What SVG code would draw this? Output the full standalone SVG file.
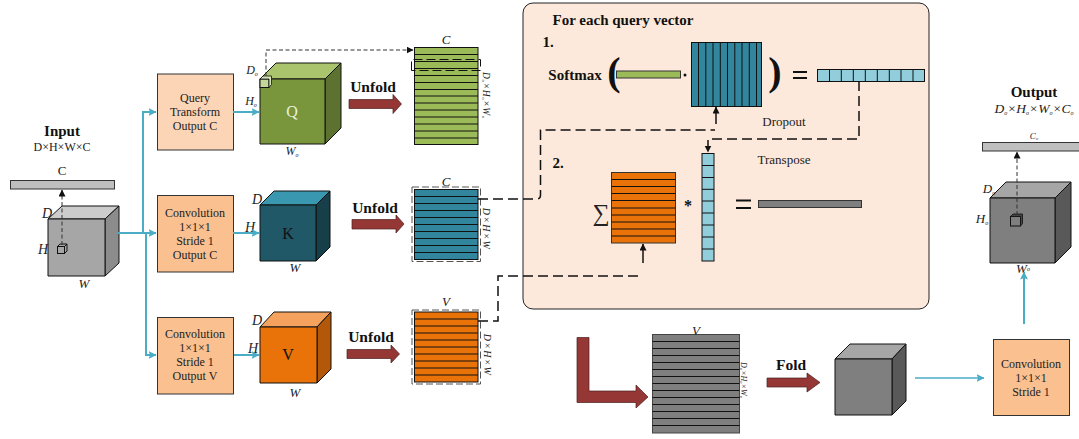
<svg xmlns="http://www.w3.org/2000/svg" width="1079" height="439" viewBox="0 0 1079 439">
<style>
text{font-family:"Liberation Serif","Times New Roman",serif;fill:#222;text-anchor:middle}
.b{font-weight:bold;fill:#111}
.i{font-style:italic}
.t10{font-size:10px}
.t12{font-size:12px}
.t13{font-size:13px}
.t14{font-size:14px}
.t15{font-size:15px}
.t16{font-size:16px}
.u{font-size:15.500px;font-weight:bold;fill:#111}
.sub{font-size:6px;font-style:italic}
.e{stroke:#111;stroke-width:1;stroke-linejoin:round}
.ln{fill:none;stroke:#111;stroke-width:1}
.blue{fill:none;stroke:#4bacc6;stroke-width:2}
.blue2{fill:none;stroke:#4bacc6;stroke-width:1.500}
.dash{fill:none;stroke:#111;stroke-width:1.500;stroke-dasharray:10 5}
.dash2{fill:none;stroke:#333;stroke-width:1;stroke-dasharray:4 2.500}
.dbox{fill:none;stroke:#555;stroke-width:1;stroke-dasharray:7 3}
.red{fill:#953735;stroke:#4a2020;stroke-width:.7}
.peach1{fill:#fbd5b5;stroke:#333;stroke-width:1}
.peach2{fill:#fac090;stroke:#333;stroke-width:1}
.eq{fill:none;stroke:#111;stroke-width:2.200}
</style>
<defs>
<marker id="ab" markerWidth="9" markerHeight="9" refX="7.500" refY="4" orient="auto" markerUnits="userSpaceOnUse"><path d="M0,0 L8,4 L0,8 L1.500,4 Z" fill="#4bacc6"/></marker>
<marker id="ak" markerWidth="8" markerHeight="8" refX="6.500" refY="3.500" orient="auto" markerUnits="userSpaceOnUse"><path d="M0,0 L7,3.500 L0,7 Z" fill="#111"/></marker>
</defs>

<g id="panel">
<rect x="523" y="3" width="406" height="306" rx="10" fill="#fde9db" stroke="#222" stroke-width="1"/>
<text x="623" y="25" class="b t15">For each query vector</text>
<text x="548" y="47" class="b t15">1.</text>
<text x="575" y="80" class="b t15">Softmax</text>
<text x="614" y="85" class="b" style="font-size:40px">(</text>
<text x="775" y="85" class="b" style="font-size:40px">)</text>
<rect x="616.500" y="71" width="64" height="7" fill="#9bbb59" stroke="#333" stroke-width="1"/>
<circle cx="685" cy="75" r="1.500" fill="#111"/>
<g id="attn-matrix">
<rect x="691.500" y="42.500" width="70" height="64" fill="#31859c" stroke="#111"/>
<path class="ln" d="M698.500,42.500V106.500M705.800,42.500V106.500M713,42.500V106.500M720.300,42.500V106.500M727.500,42.500V106.500M734.800,42.500V106.500M742,42.500V106.500M749.300,42.500V106.500M756.500,42.500V106.500"/>
</g>
<path class="eq" d="M793,72H807M793,78H807"/>
<g id="softmax-row">
<rect x="817.500" y="69.500" width="107" height="12" fill="#92cddc" stroke="#111"/>
<path class="ln" d="M829.500,69.500V81.500M841.300,69.500V81.500M853.300,69.500V81.500M865.300,69.500V81.500M877.300,69.500V81.500M889.300,69.500V81.500M901,69.500V81.500M913,69.500V81.500"/>
</g>
<text x="784" y="126" class="t13">Dropout</text>
<text x="784" y="164" class="t13">Transpose</text>
<text x="558" y="168" class="b t15">2.</text>
<text x="601" y="221" style="font-size:24px">∑</text>
<g id="v-matrix">
<rect x="611.500" y="172.500" width="64" height="70.500" fill="#e97209" stroke="#333"/>
<path class="ln" d="M611.500,179.500H675.500M611.500,186.500H675.500M611.500,193.500H675.500M611.500,200.500H675.500M611.500,208H675.500M611.500,215H675.500M611.500,222H675.500M611.500,229H675.500M611.500,236H675.500"/>
</g>
<text x="688" y="211" class="b t16">*</text>
<g id="transposed-col">
<rect x="702" y="153.500" width="12" height="107.500" fill="#92cddc" stroke="#111"/>
<path class="ln" d="M702,165.500H714M702,177.500H714M702,189.300H714M702,201H714M702,213H714M702,225H714M702,237H714M702,249H714"/>
</g>
<path class="eq" d="M736,200.500H751M736,208H751"/>
<rect x="758.500" y="200.500" width="103" height="7" fill="#7f7f7f" stroke="#333"/>
</g>

<g id="input">
<text x="62" y="136" class="b t15">Input</text>
<text x="62" y="151" class="t12">D×H×W×C</text>
<text x="62" y="175" class="t13">C</text>
<rect x="10.500" y="180.500" width="104" height="8.500" fill="#bfbfbf" stroke="#333"/>
<path class="e" fill="#cccccc" d="M48,219 L62,206 H119 L105,219 Z"/>
<path class="e" fill="#8c8c8c" d="M105,219 L119,206 V263 L105,276 Z"/>
<rect class="e" x="48" y="219" width="57" height="57" fill="#a6a6a6"/>
<rect x="57.500" y="246.500" width="7" height="7" fill="none" stroke="#111"/><path class="ln" d="M57.500,246.500 L60,244 H67 V251 L64.500,253.500 M64.500,246.500 L67,244"/>
<text x="47" y="218" class="i t14">D</text>
<text x="43" y="254" class="i t14">H</text>
<text x="84" y="288" class="i t13">W</text>
</g>

<g id="query-box">
<rect class="peach1" x="157.500" y="74" width="76" height="76"/>
<text x="195" y="102" class="t12">Query</text>
<text x="195" y="116" class="t12">Transform</text>
<text x="195" y="130" class="t12">Output C</text>
</g>
<g id="conv-c-box">
<rect class="peach2" x="157.500" y="195.500" width="76" height="76.500"/>
<text x="195" y="217" class="t12">Convolution</text>
<text x="195" y="231" class="t12">1×1×1</text>
<text x="195" y="245" class="t12">Stride 1</text>
<text x="195" y="259" class="t12">Output C</text>
</g>
<g id="conv-v-box">
<rect class="peach2" x="157.500" y="317.500" width="76" height="76.500"/>
<text x="195" y="338" class="t12">Convolution</text>
<text x="195" y="352" class="t12">1×1×1</text>
<text x="195" y="366" class="t12">Stride 1</text>
<text x="195" y="380" class="t12">Output V</text>
</g>

<g id="q-cube">
<path class="e" fill="#a9c46c" d="M260,79 L276,63 H341 L325,79 Z"/>
<path class="e" fill="#5d7230" d="M325,79 L341,63 V128 L325,144 Z"/>
<rect class="e" x="260" y="79" width="65" height="65" fill="#7a963d"/>
<rect x="260" y="79" width="9" height="8.500" fill="#c4d79b" stroke="#111"/><path d="M260,79 L263,76 H271.500 V84.500 L269,87.500 V79 Z" fill="#d8e4bc" stroke="#111" stroke-width=".8"/>
<text x="292" y="117" class="t16" style="fill:#eaf1dd">Q</text>
<text x="252" y="74" class="i t12">D<tspan class="sub" dy="2">o</tspan></text>
<text x="251" y="105" class="i t12">H<tspan class="sub" dy="2">o</tspan></text>
<text x="292" y="155" class="i t12">W<tspan class="sub" dy="2">o</tspan></text>
</g>
<g id="k-cube">
<path class="e" fill="#3a97b0" d="M260,205 L274,191 H330 L316,205 Z"/>
<path class="e" fill="#173f4a" d="M316,205 L330,191 V247 L316,261 Z"/>
<rect class="e" x="260" y="205" width="56" height="56" fill="#205867"/>
<text x="288" y="239" class="t16" style="fill:#111">K</text>
<text x="257" y="204" class="i t14">D</text>
<text x="250" y="232" class="i t14">H</text>
<text x="295" y="272" class="i t13">W</text>
</g>
<g id="v-cube">
<path class="e" fill="#f5a25f" d="M260,327 L274,312 H331 L317,327 Z"/>
<path class="e" fill="#b35808" d="M317,327 L331,312 V369 L317,383 Z"/>
<rect class="e" x="260" y="327" width="57" height="56" fill="#e97209"/>
<text x="288" y="360" class="t16" style="fill:#111">V</text>
<text x="257" y="325" class="i t14">D</text>
<text x="253" y="353" class="i t14">H</text>
<text x="295" y="397" class="i t13">W</text>
</g>

<g id="unfold-arrows">
<text x="373" y="92" class="u">Unfold</text>
<path class="red" d="M349,99.500 H393 V94.500 L401.500,104 L393,113.500 V108.500 H349 Z"/>
<text x="375" y="213" class="u">Unfold</text>
<path class="red" d="M352,219.500 H396 V215 L404,224 L396,233 V229 H352 Z"/>
<text x="371" y="342" class="u">Unfold</text>
<path class="red" d="M347,349.500 H391 V345 L399.500,354 L391,363 V358.500 H347 Z"/>
</g>

<g id="q-matrix">
<text x="446" y="44" class="i t13">C</text>
<rect x="414.500" y="47.500" width="63.500" height="97" fill="#9bbb59" stroke="#111"/>
<path class="ln" d="M414.500,54.500H478M414.500,61.500H478M414.500,68.500H478M414.500,75.500H478M414.500,82.500H478M414.500,89.500H478M414.500,96H478M414.500,103H478M414.500,110H478M414.500,117H478M414.500,124H478M414.500,131H478M414.500,138H478"/>
<path class="dash" style="stroke-dasharray:9 4;stroke-width:1" d="M411.500,70.500 V59.500 H480.500 V70.500 H411.500"/>
<text transform="translate(483,95.500) rotate(90)" class="i" style="font-size:9.500px;letter-spacing:.6px">D<tspan class="sub" dy="1" style="font-size:5px">o</tspan><tspan dy="-1">×H</tspan><tspan class="sub" dy="1" style="font-size:5px">o</tspan><tspan dy="-1">×W</tspan><tspan class="sub" dy="1" style="font-size:5px">o</tspan></text>
</g>
<g id="k-matrix">
<text x="446" y="186" class="i t13">C</text>
<rect x="414.500" y="189.500" width="63.500" height="70" fill="#31859c" stroke="#111"/>
<path class="ln" d="M414.500,196.500H478M414.500,203.500H478M414.500,210.500H478M414.500,217.500H478M414.500,224.500H478M414.500,231.500H478M414.500,238.500H478M414.500,245.500H478M414.500,252.500H478"/>
<rect class="dbox" x="412" y="187" width="68.500" height="74.500"/>
<text transform="translate(483,229) rotate(90)" class="i" style="font-size:10px;letter-spacing:1.200px">D×H×W</text>
</g>
<g id="v-matrix-input">
<text x="446" y="306" class="i t13">V</text>
<rect x="414.500" y="312" width="63.500" height="70" fill="#e97209" stroke="#111"/>
<path class="ln" d="M414.500,319H478M414.500,326H478M414.500,333H478M414.500,340H478M414.500,347H478M414.500,354H478M414.500,361H478M414.500,368H478M414.500,375H478"/>
<rect class="dbox" x="412" y="310" width="68.500" height="74"/>
<text transform="translate(484,355) rotate(90)" class="i" style="font-size:10px;letter-spacing:1.200px">D×H×W</text>
</g>

<g id="result-matrix">
<path class="red" d="M577,337.500 H589 V391 H636 V385 L648,397 L636,408 V402.500 H577 Z"/>
<rect x="652.500" y="334.500" width="87" height="98.500" fill="#7f7f7f" stroke="#444"/>
<path class="ln" d="M652.500,341.500H739.500M652.500,348.500H739.500M652.500,355.500H739.500M652.500,362.500H739.500M652.500,369.500H739.500M652.500,376.500H739.500M652.500,383.500H739.500M652.500,390.500H739.500M652.500,397.500H739.500M652.500,404.500H739.500M652.500,411.500H739.500M652.500,418.500H739.500M652.500,425.500H739.500"/>
<text x="696" y="335" class="i t13">V</text>
<text transform="translate(741,380) rotate(90)" class="i" style="font-size:8px">D<tspan class="sub" dy="1" style="font-size:4.500px">o</tspan><tspan dy="-1">×H</tspan><tspan class="sub" dy="1" style="font-size:4.500px">o</tspan><tspan dy="-1">×W</tspan><tspan class="sub" dy="1" style="font-size:4.500px">o</tspan></text>
<text x="791" y="370" class="u">Fold</text>
<path class="red" d="M767,378 H807 V373 L820,382.500 L807,392 V387 H767 Z"/>
</g>
<g id="fold-cube">
<path class="e" fill="#a6a6a6" d="M835,359 L850,344 H906 L892,359 Z"/>
<path class="e" fill="#595959" d="M892,359 L906,344 V401 L892,415 Z"/>
<rect class="e" x="835" y="359" width="57" height="56" fill="#7f7f7f"/>
</g>
<g id="conv-out-box">
<rect class="peach2" x="993.500" y="339.500" width="76" height="76"/>
<text x="1031" y="368" class="t12">Convolution</text>
<text x="1031" y="382" class="t12">1×1×1</text>
<text x="1031" y="396" class="t12">Stride 1</text>
</g>
<g id="output">
<text x="1034" y="97" class="b t15">Output</text>
<text x="1034" y="113" class="i" style="font-size:13.500px">D<tspan class="sub" dy="2">o</tspan><tspan dy="-2">×H</tspan><tspan class="sub" dy="2">o</tspan><tspan dy="-2">×W</tspan><tspan class="sub" dy="2">o</tspan><tspan dy="-2">×C</tspan><tspan class="sub" dy="2">o</tspan></text>
<text x="1034" y="139" class="i" style="font-size:9px">C<tspan class="sub" dy="1" style="font-size:4.500px">o</tspan></text>
<rect x="982.500" y="142.500" width="98" height="8.500" fill="#bfbfbf" stroke="#333"/>
<path class="e" fill="#a6a6a6" d="M990,198 L1006,182 H1071 L1055,198 Z"/>
<path class="e" fill="#595959" d="M1055,198 L1071,182 V247 L1055,263 Z"/>
<rect class="e" x="990" y="198" width="65" height="65" fill="#7f7f7f"/>
<rect x="1010.500" y="216.500" width="10" height="9.500" fill="#7f7f7f" stroke="#111"/><path d="M1010.500,216.500 L1013,214 H1022.500 V223.500 L1020.500,226 V216.500 Z" fill="#444" stroke="#111" stroke-width=".8"/>
<text x="989" y="193" class="i t13">D<tspan class="sub" dy="2">o</tspan></text>
<text x="982" y="223" class="i t13">H<tspan class="sub" dy="2">o</tspan></text>
<text x="1023" y="273" class="i t13">W<tspan class="sub" dy="-2">o</tspan></text>
</g>

<g id="connectors">
<path class="blue" d="M118,233 H143 V112 H156" marker-end="url(#ab)"/>
<path class="blue" d="M143,233 H156" marker-end="url(#ab)"/>
<path class="blue" d="M146,233 V355 H156" marker-end="url(#ab)"/>
<path class="blue" d="M233,112 H259" marker-end="url(#ab)"/>
<path class="blue" d="M233,233 H259" marker-end="url(#ab)"/>
<path class="blue" d="M234,355 H259" marker-end="url(#ab)"/>
<path class="blue2" d="M915,378 H984" marker-end="url(#ab)"/>
<path class="blue" d="M1024,324 V272" marker-end="url(#ab)"/>
<path class="dash2" d="M62,245 V190" marker-end="url(#ak)"/>
<path class="dash2" d="M266,76 V50 H413" marker-end="url(#ak)"/>
<path class="dash2" d="M1017,215 V152" marker-end="url(#ak)"/>
<path class="dash" d="M478,199 H537 Q540.500,199 540.500,195 V130 H715"/>
<path class="ln" style="stroke-width:1.500" d="M716,124 V107" marker-end="url(#ak)"/>
<path class="dash" d="M859,81 V139 H708 V152" marker-end="url(#ak)"/>
<path class="dash" d="M478,321 H498 V276 H643"/>
<path class="ln" style="stroke-width:1.500" d="M643,263 V244" marker-end="url(#ak)"/>
</g>
</svg>
